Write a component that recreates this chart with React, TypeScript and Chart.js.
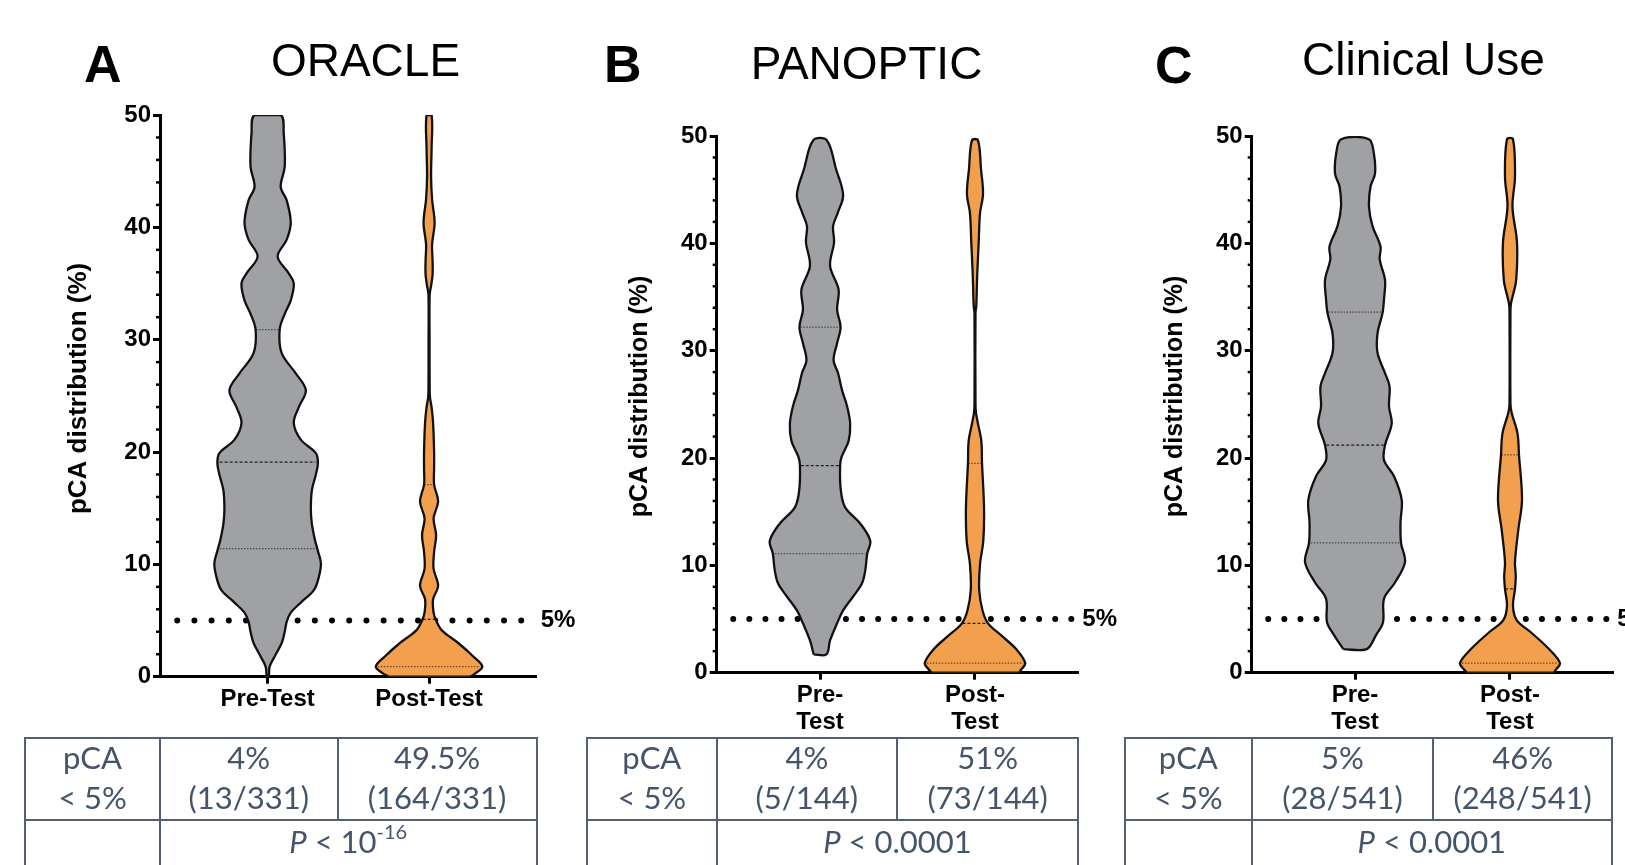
import React, { useEffect, useRef } from "react";
import { Chart, registerables } from "chart.js";

Chart.register(...registerables);

const FONT = "'Liberation Sans', Arial, Helvetica, sans-serif";
const TABLE_FONT = "Lato, 'Open Sans', sans-serif";
Chart.defaults.font.family = FONT;

// ---------------- labels / axes ----------------
const PANEL_LETTERS = ["A", "B", "C"];
const PANEL_TITLES = ["ORACLE", "PANOPTIC", "Clinical Use"];
const CATEGORIES_ORACLE = ["Pre-Test", "Post-Test"];
const CATEGORIES_WRAPPED = [["Pre-", "Test"], ["Post-", "Test"]];
const Y_MAJOR_TICKS = [0, 10, 20, 30, 40, 50];
const Y_MINOR_TICKS = [2, 4, 6, 8, 12, 14, 16, 18, 22, 24, 26, 28, 32, 34, 36, 38, 42, 44, 46, 48];
const THRESHOLD = 5;
const THRESHOLD_LABEL = "5%";
const Y_TITLE = "pCA distribution (%)";

// ---------------- violin profiles (value %, relative density) ----------------
const ORACLE_PRE_VALUES = [0, 0.9, 1.8, 3.0, 4.0, 4.9, 5.7, 6.6, 7.7, 8.9, 10.1, 11.2, 12.2, 13.6, 14.9, 16.6, 18.0, 19.0, 19.9, 21.1, 22.6, 24.0, 25.5, 27.0, 28.8, 30.9, 32.3, 33.5, 35.0, 35.9, 37.4, 38.9, 40.4, 42.4, 43.6, 45.4, 48.4, 50];
const ORACLE_PRE_DENSITY = [1, 2, 7, 14, 17, 19, 23, 33, 46, 51, 53, 50, 47, 44, 43, 44, 48, 50, 48, 33, 26, 31, 38, 28, 14, 12, 17, 23, 26, 21, 10, 19, 23, 19, 13, 17, 16, 13];
const ORACLE_PRE_QUARTILES = [11.4, 19.1, 30.9];

const ORACLE_POST_VALUES = [0, 0.3, 0.9, 1.8, 3.0, 4.1, 5.0, 5.7, 6.9, 8.1, 9.6, 11.1, 12.6, 14.1, 15.6, 17.1, 18.5, 20.0, 22.6, 24.0, 24.8, 25.5, 30.0, 34.0, 34.8, 35.8, 37.0, 38.5, 40.4, 42.5, 44.5, 47.0, 50];
const ORACLE_POST_DENSITY = [40, 46, 53, 44, 29, 13, 7, 4.5, 4, 9, 4.5, 5, 7, 4.5, 9, 5, 5, 5, 4, 2.5, 1, 0.6, 0.5, 0.6, 2, 3.5, 3.5, 3, 5.5, 3, 2, 2.5, 2.5];
const ORACLE_POST_QUARTILES = [0.9, 5.1, 17.1];

const PANOPTIC_PRE_VALUES = [1.7, 3.0, 4.6, 5.8, 7.1, 8.3, 9.5, 11.1, 12.3, 13.9, 15.4, 17.0, 19.3, 20.1, 21.6, 23.2, 24.8, 26.3, 27.9, 29.1, 30.7, 32.2, 33.8, 35.7, 37.9, 40.1, 41.6, 42.8, 44.5, 46.9, 49.6];
const PANOPTIC_PRE_DENSITY = [6.3, 10, 17, 23, 33, 41.7, 45, 47, 50, 40, 25, 20.7, 20, 21.5, 28.5, 30, 27, 22, 18, 13.5, 17, 20.5, 17, 18.5, 10, 14, 13, 17.5, 23, 16, 6.7];
const PANOPTIC_PRE_QUARTILES = [11.1, 19.3, 32.2];

const PANOPTIC_POST_VALUES = [0, 0.3, 0.9, 2.2, 3.4, 4.6, 5.8, 7.7, 10.1, 12.3, 15.4, 19.5, 21.6, 23.2, 24.2, 25.0, 33.5, 34.2, 37.0, 40.1, 42.8, 44.6, 46.9, 49.6];
const PANOPTIC_POST_DENSITY = [43, 46, 50, 41, 27, 13, 7.5, 4.2, 5, 8.3, 9, 7, 6.3, 3, 1, 0.5, 0.5, 1.3, 2.2, 3.7, 5, 8, 6, 3];
const PANOPTIC_POST_QUARTILES = [0.9, 4.6, 19.5];

const CLINICAL_PRE_VALUES = [2.2, 3.5, 4.7, 6.9, 8.4, 10.3, 12.1, 14.0, 16.1, 18.3, 19.8, 21.2, 23.2, 24.8, 26.7, 27.9, 29.8, 31.6, 33.5, 34.8, 36.6, 38.5, 39.7, 41.6, 43.4, 45.3, 46.5, 48.4, 49.7];
const CLINICAL_PRE_DENSITY = [11.7, 21, 28, 29, 40, 50, 46, 45.5, 46.7, 39, 29, 30, 36.7, 34, 34.5, 30, 22.5, 22.5, 27.5, 29, 30, 24.7, 25.5, 17.5, 14, 15.5, 20, 18.8, 13.8];
const CLINICAL_PRE_QUARTILES = [12.1, 21.2, 33.6];

const CLINICAL_POST_VALUES = [0, 0.3, 0.9, 2.2, 3.7, 4.9, 6.2, 7.8, 9.0, 10.3, 13.3, 16.1, 20.3, 22.3, 24.2, 25.0, 33.8, 34.4, 35.0, 36.6, 40.1, 43.4, 46.2, 49.7];
const CLINICAL_POST_DENSITY = [43, 46, 50, 39, 21.7, 6.7, 3, 5, 5.8, 5, 8.3, 12, 9, 7.5, 1.7, 0.5, 0.5, 1, 2.5, 6.2, 7, 2.5, 5, 3];
const CLINICAL_POST_QUARTILES = [0.9, 7.8, 20.3];

// ---------------- tables ----------------
const ROW_HEADER = ["pCA", "< 5%"];
const ORACLE_TABLE = ["4%", "(13/331)", "49.5%", "(164/331)"];
const PANOPTIC_TABLE = ["4%", "(5/144)", "51%", "(73/144)"];
const CLINICAL_TABLE = ["5%", "(28/541)", "46%", "(248/541)"];
const P_VALUES = [["10", "-16"], ["0.0001", ""], ["0.0001", ""]];

// ---------------- styling / layout ----------------
const GRAY = "#A0A1A5";
const ORANGE = "#F3A04E";
const TABLE_TEXT = "#44546A";
const TABLE_LINE = "#555F74";
const CANVAS_H = 740;
const X_MIN = 1 / 3;
const X_MAX = 8 / 3;
const THRESHOLD_SPAN = [0.44, 2.645];

const PANEL_DATA = [
  {
    categories: CATEGORIES_ORACLE,
    table: ORACLE_TABLE,
    violins: [
      { values: ORACLE_PRE_VALUES, density: ORACLE_PRE_DENSITY, quartiles: ORACLE_PRE_QUARTILES, color: GRAY },
      { values: ORACLE_POST_VALUES, density: ORACLE_POST_DENSITY, quartiles: ORACLE_POST_QUARTILES, color: ORANGE },
    ],
  },
  {
    categories: CATEGORIES_WRAPPED,
    table: PANOPTIC_TABLE,
    violins: [
      { values: PANOPTIC_PRE_VALUES, density: PANOPTIC_PRE_DENSITY, quartiles: PANOPTIC_PRE_QUARTILES, color: GRAY },
      { values: PANOPTIC_POST_VALUES, density: PANOPTIC_POST_DENSITY, quartiles: PANOPTIC_POST_QUARTILES, color: ORANGE },
    ],
  },
  {
    categories: CATEGORIES_WRAPPED,
    table: CLINICAL_TABLE,
    violins: [
      { values: CLINICAL_PRE_VALUES, density: CLINICAL_PRE_DENSITY, quartiles: CLINICAL_PRE_QUARTILES, color: GRAY },
      { values: CLINICAL_POST_VALUES, density: CLINICAL_POST_DENSITY, quartiles: CLINICAL_POST_QUARTILES, color: ORANGE },
    ],
  },
];

const LAYOUT = [
  {
    left: 0, width: 600,
    area: { left: 160, right: 536.7, top: 115, bottom: 676.7 },
    widthScale: 1 / 160.6, dotGap: 17.2,
    yTitle: { x: 79, y: 388.4, size: 26 },
    letter: { left: 84, top: 38 },
    title: { center: 365.5, top: 37 },
    table: [25, 160, 337.5, 536.5],
  },
  {
    left: 560, width: 570,
    area: { left: 156.7, right: 518.3, top: 136, bottom: 672.7 },
    widthScale: 1 / 154.3, dotGap: 16.1,
    yTitle: { x: 80, y: 396.5, size: 25 },
    letter: { left: 604, top: 38 },
    title: { center: 866.5, top: 40 },
    table: [587, 716.7, 897, 1078.3],
  },
  {
    left: 1100, width: 525,
    area: { left: 151.7, right: 513.3, top: 136, bottom: 672.7 },
    widthScale: 1 / 155, dotGap: 16.1,
    yTitle: { x: 75, y: 396.5, size: 25 },
    letter: { left: 1155, top: 39 },
    title: { center: 1423.5, top: 36 },
    table: [1125, 1251.7, 1433.4, 1612],
  },
];

function densityAt(values: number[], density: number[], v: number) {
  for (let i = 0; i < values.length - 1; i++) {
    if (v >= values[i] && v <= values[i + 1]) {
      const t = (v - values[i]) / (values[i + 1] - values[i]);
      return density[i] + t * (density[i + 1] - density[i]);
    }
  }
  return 0;
}

function buildChart(canvas: HTMLCanvasElement, idx: number) {
  const L = LAYOUT[idx];
  const D = PANEL_DATA[idx];
  const datasets: any[] = [];

  datasets.push({
    type: "line",
    data: [
      { x: THRESHOLD_SPAN[0], y: THRESHOLD },
      { x: THRESHOLD_SPAN[1], y: THRESHOLD },
    ],
    borderColor: "#000",
    borderWidth: 6,
    borderDash: [0, L.dotGap],
    borderCapStyle: "round",
    pointRadius: 0,
    fill: false,
    order: 10,
  });

  D.violins.forEach((v, i) => {
    const c = i + 1;
    const leftSide = v.values.map((val, k) => ({ x: c - v.density[k] * L.widthScale, y: val }));
    const rightSide = v.values.map((val, k) => ({ x: c + v.density[k] * L.widthScale, y: val })).reverse();
    datasets.push({
      type: "line",
      data: [...leftSide, ...rightSide, leftSide[0]],
      borderColor: "#111",
      borderWidth: 2.3,
      backgroundColor: v.color,
      fill: "shape",
      tension: 0.35,
      pointRadius: 0,
      order: 5,
    });
    v.quartiles.forEach((q, qi) => {
      const hw = densityAt(v.values, v.density, q) * L.widthScale * 0.96;
      datasets.push({
        type: "line",
        data: [
          { x: c - hw, y: q },
          { x: c + hw, y: q },
        ],
        borderColor: qi === 1 ? "rgba(0,0,0,0.8)" : "rgba(0,0,0,0.55)",
        borderWidth: 1.2,
        borderDash: qi === 1 ? [3, 2] : [1.5, 1.5],
        pointRadius: 0,
        fill: false,
        order: 1,
      });
    });
  });

  const decor = {
    id: "decor",
    afterDraw(chart: any) {
      const { ctx, chartArea, scales } = chart;
      const y = scales.y;
      ctx.save();
      ctx.strokeStyle = "#000";
      ctx.lineWidth = 2.5;
      Y_MINOR_TICKS.forEach((v) => {
        const py = y.getPixelForValue(v);
        ctx.beginPath();
        ctx.moveTo(chartArea.left - 4, py);
        ctx.lineTo(chartArea.left, py);
        ctx.stroke();
      });
      ctx.fillStyle = "#000";
      ctx.font = `bold 24px ${FONT}`;
      ctx.textAlign = "left";
      ctx.textBaseline = "middle";
      ctx.fillText(THRESHOLD_LABEL, chartArea.right + 4, y.getPixelForValue(THRESHOLD));
      ctx.translate(L.yTitle.x, L.yTitle.y);
      ctx.rotate(-Math.PI / 2);
      ctx.textAlign = "center";
      ctx.font = `bold ${L.yTitle.size}px ${FONT}`;
      ctx.fillText(Y_TITLE, 0, 0);
      ctx.restore();
    },
  };

  return new Chart(canvas, {
    type: "line",
    data: { datasets },
    options: {
      responsive: false,
      animation: false,
      events: [],
      layout: { padding: { left: 0, right: L.width - L.area.right, top: L.area.top, bottom: 0 } },
      plugins: { legend: { display: false }, tooltip: { enabled: false }, title: { display: false } },
      scales: {
        x: {
          type: "linear",
          min: X_MIN,
          max: X_MAX,
          afterBuildTicks: (axis: any) => {
            axis.ticks = D.categories.map((_, i) => ({ value: i + 1 }));
          },
          afterFit: (s: any) => {
            s.height = CANVAS_H - L.area.bottom;
          },
          grid: { drawOnChartArea: false, drawTicks: true, tickLength: 7, tickWidth: 3, tickColor: "#000" },
          border: { display: true, color: "#000", width: 3 },
          ticks: {
            autoSkip: false,
            maxRotation: 0,
            padding: 2,
            color: "#000",
            font: { size: 24, weight: "bold", lineHeight: 1.12 },
            callback: (v: any) => D.categories[Math.round(v) - 1] as any,
          },
        },
        y: {
          type: "linear",
          min: 0,
          max: 50,
          afterBuildTicks: (axis: any) => {
            axis.ticks = Y_MAJOR_TICKS.map((v) => ({ value: v }));
          },
          afterFit: (s: any) => {
            s.width = L.area.left;
          },
          grid: { drawOnChartArea: false, drawTicks: true, tickLength: 7, tickWidth: 3, tickColor: "#000" },
          border: { display: true, color: "#000", width: 3 },
          ticks: { padding: 2, color: "#000", font: { size: 24, weight: "bold" } },
        },
      },
    } as any,
    plugins: [decor],
  } as any);
}

function StatTable({ idx }: { idx: number }) {
  const [x0, x1, x2, x3] = LAYOUT[idx].table;
  const vals = PANEL_DATA[idx].table;
  const [pBase, pExp] = P_VALUES[idx];
  const top = 738;
  const mid = 820;
  const bottom = 900;
  const h = (y: number, a: number, b: number, k: string) => (
    <div key={k} style={{ position: "absolute", left: a - 1, top: y - 1, width: b - a + 2, height: 2, background: TABLE_LINE }} />
  );
  const v = (x: number, a: number, b: number, k: string) => (
    <div key={k} style={{ position: "absolute", left: x - 1, top: a - 1, width: 2, height: b - a + 2, background: TABLE_LINE }} />
  );
  const cellStyle = (a: number, b: number, y: number): React.CSSProperties => ({
    position: "absolute",
    left: a,
    width: b - a,
    top: y,
    textAlign: "center",
    font: `31px/40px ${TABLE_FONT}`,
    color: TABLE_TEXT,
    whiteSpace: "nowrap",
  });
  return (
    <>
      {h(top, x0, x3, "t")}
      {h(mid, x0, x3, "m")}
      {v(x0, top, bottom, "v0")}
      {v(x1, top, bottom, "v1")}
      {v(x2, top, mid, "v2")}
      {v(x3, top, bottom, "v3")}
      <div style={cellStyle(x0, x1, top - 1)}>
        {ROW_HEADER[0]}
        <br />
        {ROW_HEADER[1]}
      </div>
      <div style={cellStyle(x1, x2, top - 1)}>
        {vals[0]}
        <br />
        {vals[1]}
      </div>
      <div style={cellStyle(x2, x3, top - 1)}>
        {vals[2]}
        <br />
        {vals[3]}
      </div>
      <div style={cellStyle(x1, x3, mid + 1)}>
        <span style={{ fontStyle: "italic" }}>P</span>
        {" < "}
        {pBase}
        {pExp ? <span style={{ fontSize: 20, position: "relative", top: -14 }}>{pExp}</span> : null}
      </div>
    </>
  );
}

function Panel({ idx }: { idx: number }) {
  const ref = useRef<HTMLCanvasElement | null>(null);
  const L = LAYOUT[idx];
  useEffect(() => {
    if (!ref.current) return;
    const chart = buildChart(ref.current, idx);
    return () => chart.destroy();
  }, [idx]);
  return (
    <>
      <canvas
        ref={ref}
        width={L.width}
        height={CANVAS_H}
        style={{ position: "absolute", left: L.left, top: 0, width: L.width, height: CANVAS_H, display: "block" }}
      />
      <div style={{ position: "absolute", left: L.letter.left, top: L.letter.top, font: `bold 52px/52px ${FONT}`, color: "#000" }}>
        {PANEL_LETTERS[idx]}
      </div>
      <div
        style={{
          position: "absolute",
          left: L.title.center - 200,
          width: 400,
          top: L.title.top,
          textAlign: "center",
          font: `46px/46px ${FONT}`,
          color: "#000",
        }}
      >
        {PANEL_TITLES[idx]}
      </div>
      <StatTable idx={idx} />
    </>
  );
}

export default function App() {
  return (
    <div style={{ position: "absolute", left: 0, top: 0, width: 1625, height: 865, overflow: "hidden", background: "#fff" }}>
      {PANEL_DATA.map((_, i) => (
        <Panel key={i} idx={i} />
      ))}
    </div>
  );
}
